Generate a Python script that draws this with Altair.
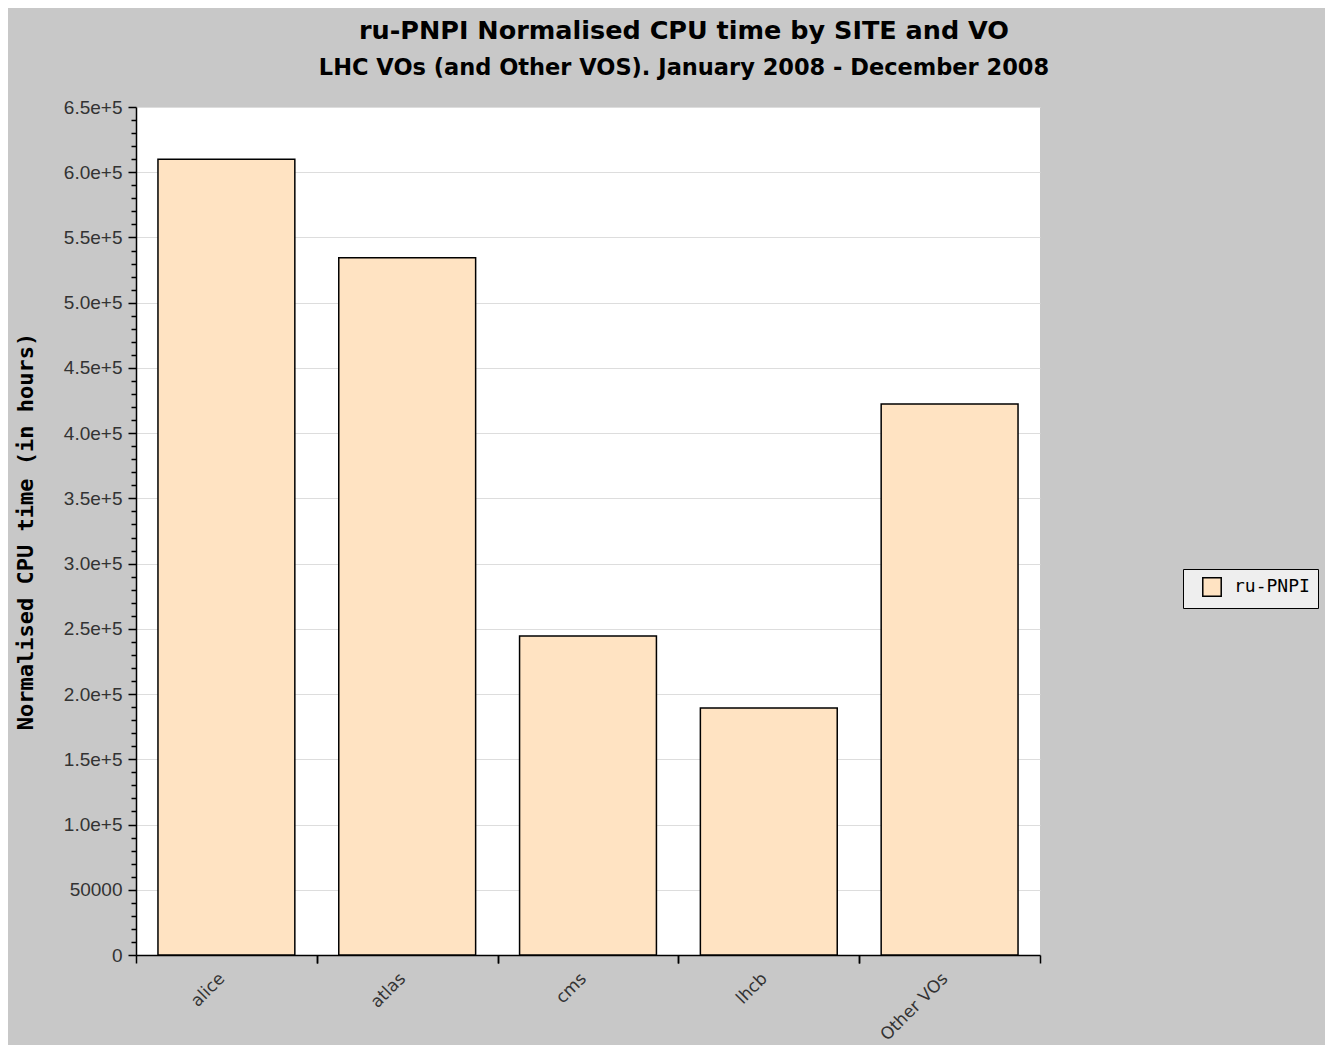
import altair as alt
import pandas as pd

vos = ["alice", "atlas", "cms", "lhcb", "Other VOs"]
cpu_hours = [610000, 534500, 244500, 189300, 422300]
site = ["ru-PNPI"] * len(vos)
y_ticks = list(range(0, 650001, 10000))

df = pd.DataFrame({"vo": vos, "cpu": cpu_hours, "site": site})

x_scale = alt.Scale(paddingInner=0.243, paddingOuter=0.1215)
y_scale = alt.Scale(domain=[0, 650000], nice=False)

label_expr = ("datum.value % 50000 !== 0 ? '' : (datum.value >= 100000 ? "
              "format(datum.value, '.1e') : format(datum.value, 'd'))")

bars = alt.Chart(df).mark_bar(stroke="black", strokeWidth=1.5).encode(
    x=alt.X("vo:N", sort=vos, scale=x_scale,
            axis=alt.Axis(title=None, orient="bottom", labelAngle=-45,
                          tickOffset=-90.4, labelOffset=80, tickSize=8,
                          tickColor="black", tickWidth=1.5,
                          domainColor="black", domainWidth=1.5,
                          labelPadding=7, labelFont="DejaVu Sans",
                          labelFontSize=17, labelColor="#333333")),
    y=alt.Y("cpu:Q", scale=y_scale,
            axis=alt.Axis(title="Normalised CPU time (in hours)",
                          titleFont="DejaVu Sans Mono", titleFontSize=22,
                          titleFontWeight="bold", titleColor="black",
                          titlePadding=26,
                          values=y_ticks, labelExpr=label_expr,
                          tickSize={"condition": {"test": "datum.value % 50000 === 0", "value": 8}, "value": 5},
                          tickColor="black", tickWidth=1.5,
                          domainColor="black", domainWidth=1.5,
                          grid=True, gridColor="#dddddd",
                          gridOpacity={"condition": {"test": "datum.value % 50000 === 0", "value": 1}, "value": 0},
                          labelFont="Liberation Sans", labelFontSize=19,
                          labelColor="#333333", labelPadding=6)),
    color=alt.Color("site:N", scale=alt.Scale(range=["#ffe3c2"]),
                    legend=alt.Legend(title=None, orient="none",
                                      legendX=1047, legendY=462,
                                      fillColor="#eeeeee", strokeColor="black",
                                      padding=8, symbolOffset=11,
                                      symbolType="square",
                                      symbolSize=340, symbolStrokeColor="black",
                                      symbolStrokeWidth=1.5,
                                      labelFont="DejaVu Sans Mono",
                                      labelFontSize=18, labelColor="black",
                                      labelOffset=12, labelLimit=400,
                                      labelExpr="datum.label + '\u00a0\u00a0\u00a0\u00a0\u00a0\u00a0'",
                                      symbolOpacity=1)),
)

ticks_right = alt.Chart(df).mark_bar(opacity=0).encode(
    x=alt.X("vo:N", sort=vos, scale=x_scale,
            axis=alt.Axis(title=None, orient="bottom", labels=False,
                          domain=False, tickOffset=90.4, tickSize=8,
                          tickColor="black", tickWidth=1.5)),
)

chart = alt.layer(bars, ticks_right).resolve_axis(x="independent").properties(
    width=904, height=848,
    padding={"left": 128, "top": 99, "right": 285, "bottom": 90},
    autosize=alt.AutoSizeParams(type="none"),
    background="#c8c8c8",
    title=alt.TitleParams(
        text="ru-PNPI Normalised CPU time by SITE and VO",
        subtitle="LHC VOs (and Other VOS). January 2008 - December 2008",
        font="DejaVu Sans", fontSize=25.5, fontWeight="bold", color="black",
        subtitleFont="DejaVu Sans", subtitleFontSize=22.5,
        subtitleFontWeight="bold", subtitleColor="black",
        subtitlePadding=12, anchor="middle", frame="group", dx=96, offset=19),
).configure_view(fill="white", stroke=None)

chart.save("out.html", embed_options={"renderer": "svg", "actions": False})
